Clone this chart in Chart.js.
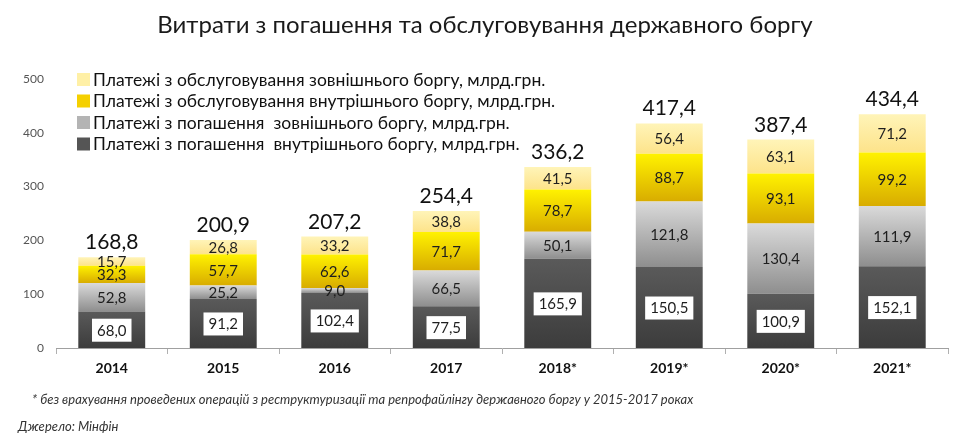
<!DOCTYPE html>
<html>
<head>
<meta charset="utf-8">
<script src="https://cdn.jsdelivr.net/npm/chart.js@4/dist/chart.umd.min.js"></script>
<style>
  html, body { margin: 0; padding: 0; background: #fff; }
  #wrap { width: 980px; height: 442px; position: relative; }
</style>
</head>
<body>
<div id="wrap"><canvas id="debtChart" width="980" height="442"></canvas></div>
<script>
const FONT = 'Lato, "Open Sans", sans-serif';

const years = ['2014', '2015', '2016', '2017', '2018*', '2019*', '2020*', '2021*'];
const internalRepay = [68.0, 91.2, 102.4, 77.5, 165.9, 150.5, 100.9, 152.1];
const externalRepay = [52.8, 25.2, 9.0, 66.5, 50.1, 121.8, 130.4, 111.9];
const internalService = [32.3, 57.7, 62.6, 71.7, 78.7, 88.7, 93.1, 99.2];
const externalService = [15.7, 26.8, 33.2, 38.8, 41.5, 56.4, 63.1, 71.2];
const totals = [168.8, 200.9, 207.2, 254.4, 336.2, 417.4, 387.4, 434.4];
const yTicks = [0, 100, 200, 300, 400, 500];

const seriesNames = [
    'Платежі з погашення  внутрішнього боргу, млрд.грн.',
    'Платежі з погашення  зовнішнього боргу, млрд.грн.',
    'Платежі з обслуговування внутрішнього боргу, млрд.грн.',
    'Платежі з обслуговування зовнішнього боргу, млрд.грн.'
];
const seriesData = [internalRepay, externalRepay, internalService, externalService];

// top / bottom colours of each segment's gradient
const gradColors = [
    ['#5a5a5a', '#3c3c3c'],
    ['#dadada', '#8e8e8e'],
    ['#fff200', '#d8ac00'],
    ['#fff4b8', '#fde38a']
];
const legendColors = ['#555555', '#b4b4b4', '#f5d000', '#fff0a6'];

function fmt(v) {
    return v.toFixed(1).replace('.', ',');
}

/* gradient per bar segment, from its top down to its base */
function segmentFill(dsIndex) {
    return function(ctx) {
        const chart = ctx.chart;
        const y = chart.scales.y;
        if (!y || ctx.dataIndex === undefined || !chart.chartArea) return gradColors[dsIndex][0];
        let base = 0;
        for (let k = 0; k < dsIndex; k++) base += seriesData[k][ctx.dataIndex];
        const top = base + seriesData[dsIndex][ctx.dataIndex];
        const y0 = y.getPixelForValue(top);
        const y1 = y.getPixelForValue(base);
        if (!isFinite(y0) || !isFinite(y1) || y0 === y1) return gradColors[dsIndex][0];
        const g = chart.ctx.createLinearGradient(0, y0, 0, y1);
        g.addColorStop(0, gradColors[dsIndex][0]);
        g.addColorStop(1, gradColors[dsIndex][1]);
        return g;
    };
}

/* Texts, legend and value labels */
const decorations = {
    id: 'decorations',
    afterDatasetsDraw(chart) {
        const c = chart.ctx;
        c.save();

        // segment labels
        c.textAlign = 'center';
        c.textBaseline = 'middle';
        c.font = '15px ' + FONT;
        chart.data.datasets.forEach((ds, i) => {
            const meta = chart.getDatasetMeta(i);
            meta.data.forEach((bar, j) => {
                const cy = (bar.y + bar.base) / 2;
                const txt = fmt(ds.data[j]);
                if (i === 0) {
                    const w = c.measureText(txt).width + 10;
                    c.fillStyle = '#ffffff';
                    c.fillRect(bar.x - w / 2, cy - 11, w, 23);
                }
                c.fillStyle = '#1e1e1e';
                c.fillText(txt, bar.x, cy + 1);
            });
        });

        // totals above the bars
        const topMeta = chart.getDatasetMeta(3);
        c.font = '21px ' + FONT;
        c.textBaseline = 'alphabetic';
        c.fillStyle = '#111';
        topMeta.data.forEach((bar, j) => {
            c.fillText(fmt(totals[j]), bar.x, bar.y - 8);
        });

        // title
        c.font = '24px ' + FONT;
        c.textBaseline = 'middle';
        c.fillStyle = '#1a1a1a';
        c.fillText('Витрати з погашення та обслуговування державного боргу', 485, 25);

        // legend (reverse order)
        c.textAlign = 'left';
        c.font = '17.5px ' + FONT;
        const rows = [3, 2, 1, 0];
        rows.forEach((ds, r) => {
            const ly = 80 + r * 21.5;
            c.fillStyle = legendColors[ds];
            c.fillRect(77, ly - 7, 13, 13);
            c.fillStyle = '#111';
            c.fillText(seriesNames[ds], 93, ly);
        });

        // footnotes
        c.font = 'italic 13px ' + FONT;
        c.fillStyle = '#333';
        c.fillText('* без врахування проведених операцій з реструктуризації та репрофайлінгу державного боргу у 2015-2017 роках', 32, 400);
        c.fillText('Джерело: Мінфін', 18, 427);

        c.restore();
    }
};

const ctx = document.getElementById('debtChart').getContext('2d');
new Chart(ctx, {
    type: 'bar',
    data: {
        labels: years,
        datasets: seriesData.map((d, i) => ({
            label: seriesNames[i],
            data: d,
            backgroundColor: segmentFill(i),
            borderWidth: 0,
            categoryPercentage: 1,
            barPercentage: 0.6
        }))
    },
    options: {
        responsive: false,
        animation: false,
        layout: { padding: { top: 79, right: 32, bottom: 64, left: 0 } },
        plugins: {
            legend: { display: false },
            tooltip: { enabled: false }
        },
        scales: {
            x: {
                stacked: true,
                grid: { offset: true, drawOnChartArea: false, tickLength: 6, color: '#b0b0b0' },
                border: { color: '#a0a0a0' },
                ticks: { color: '#111', font: { family: FONT, size: 14, weight: 'bold' }, padding: 6 },
                afterFit(scale) { scale.height = 30; }
            },
            y: {
                stacked: true,
                min: 0,
                max: 500,
                afterBuildTicks(scale) { scale.ticks = yTicks.map(v => ({ value: v })); },
                grid: { display: false, drawTicks: false },
                border: { display: false },
                ticks: { color: '#555', font: { family: FONT, size: 12 }, padding: 12 },
                afterFit(scale) { scale.width = 56; }
            }
        }
    },
    plugins: [decorations]
});
</script>
</body>
</html>
